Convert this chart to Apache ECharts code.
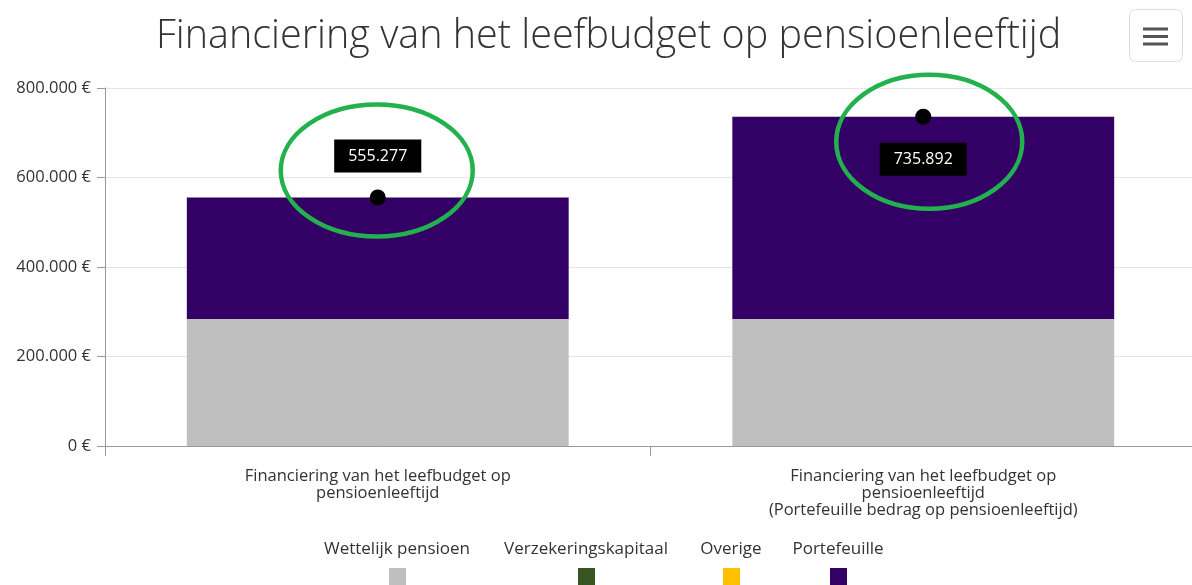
<!DOCTYPE html>
<html>
<head>
<meta charset="utf-8">
<script src="https://cdn.jsdelivr.net/npm/echarts@6/dist/echarts.min.js"></script>
<style>
  html, body { margin: 0; padding: 0; background: #fff; }
  #chart { width: 1192px; height: 585px; }
</style>
</head>
<body>
<div id="chart"></div>
<script>
// data
var categories = [
  'Financiering van het leefbudget op\npensioenleeftijd',
  'Financiering van het leefbudget op\npensioenleeftijd\n(Portefeuille bedrag op pensioenleeftijd)'
];
var seriesNames = ['Wettelijk pensioen', 'Verzekeringskapitaal', 'Overige', 'Portefeuille'];
var seriesColors = ['#BFBFBF', '#375623', '#FFC000', '#330066'];
var wettelijk = [284000, 284000];
var verzekering = [0, 0];
var overige = [0, 0];
var portefeuille = [271277, 451892];
var totals = [555277, 735892];

var allValues = [wettelijk, verzekering, overige, portefeuille];

function fmt(v) {
  return String(v).replace(/\B(?=(\d{3})+(?!\d))/g, '.');
}

var myChart = echarts.init(document.getElementById('chart'));

var series = seriesNames.map(function (name, i) {
  return {
    name: name,
    type: 'bar',
    stack: 'total',
    barWidth: '70%',
    itemStyle: { color: seriesColors[i] },
    data: allValues[i]
  };
});

// totaal punten
series.push({
  name: 'Totaal',
  type: 'scatter',
  symbolSize: 16,
  itemStyle: { color: '#000', opacity: 1 },
  z: 10,
  data: totals.map(function (v, i) {
    return {
      value: v,
      label: {
        show: true,
        position: i === 0 ? 'top' : 'bottom',
        distance: i === 0 ? 17 : 18,
        formatter: function (p) { return fmt(p.value); },
        color: '#fff',
        fontSize: 16,
        fontFamily: 'Open Sans, sans-serif',
        backgroundColor: '#000',
        padding: [9, 14, 8, 14]
      }
    };
  })
});

var option = {
  animation: false,
  title: {
    text: 'Financiering van het leefbudget op pensioenleeftijd',
    left: 151,
    top: 12,
    textStyle: {
      color: '#333',
      fontSize: 39.5,
      fontWeight: 300,
      fontFamily: 'Open Sans, sans-serif'
    }
  },
  grid: { left: 105, right: -4, top: 88, bottom: 139, outerBoundsMode: 'none' },
  xAxis: {
    type: 'category',
    data: categories,
    axisLine: { lineStyle: { color: '#999' } },
    axisTick: { show: true, length: 10, lineStyle: { color: '#999' } },
    axisLabel: {
      color: '#333',
      fontSize: 16.5,
      lineHeight: 17,
      margin: 22,
      fontFamily: 'Open Sans, sans-serif'
    }
  },
  yAxis: {
    type: 'value',
    min: 0,
    max: 800000,
    interval: 200000,
    axisLine: { show: true, lineStyle: { color: '#999' } },
    axisTick: { show: true, length: 8, lineStyle: { color: '#999' } },
    splitLine: { lineStyle: { color: '#e6e6e6' } },
    axisLabel: {
      color: '#333',
      fontSize: 16.5,
      margin: 14,
      fontFamily: 'Open Sans, sans-serif',
      formatter: function (v) { return fmt(v) + ' €'; }
    }
  },
  series: series
};

myChart.setOption(option);

// ellipsen + legenda + menuknop
var p1 = myChart.convertToPixel({ seriesIndex: 4 }, [0, totals[0]]);
var p2 = myChart.convertToPixel({ seriesIndex: 4 }, [1, totals[1]]);

var elements = [
  {
    type: 'ellipse',
    shape: { cx: p1[0] - 1, cy: p1[1] - 27, rx: 96, ry: 66 },
    style: { fill: 'none', stroke: '#22B14C', lineWidth: 4.5 },
    z: 100
  },
  {
    type: 'ellipse',
    shape: { cx: p2[0] + 6, cy: p2[1] + 25, rx: 93, ry: 67 },
    style: { fill: 'none', stroke: '#22B14C', lineWidth: 4.5 },
    z: 100
  },
  {
    type: 'rect',
    shape: { x: 1129.5, y: 9.5, width: 53, height: 52, r: 6 },
    style: { fill: '#fff', stroke: '#dcdcdc', lineWidth: 1 }
  }
];
[29, 36.5, 44].forEach(function (yy) {
  elements.push({
    type: 'line',
    shape: { x1: 1143, y1: yy, x2: 1168, y2: yy },
    style: { stroke: '#555', lineWidth: 3 }
  });
});
// legenda: tekst boven, blokje eronder
var legendX = [397, 586, 731, 838];
seriesNames.forEach(function (name, i) {
  elements.push({
    type: 'text',
    x: legendX[i],
    y: 541,
    style: {
      text: name,
      fill: '#333',
      font: '17px "Open Sans", sans-serif',
      textAlign: 'center'
    }
  });
  elements.push({
    type: 'rect',
    shape: { x: legendX[i] - 8, y: 568, width: 17, height: 17 },
    style: { fill: seriesColors[i] }
  });
});

myChart.setOption({ graphic: { elements: elements } });
</script>
</body>
</html>
